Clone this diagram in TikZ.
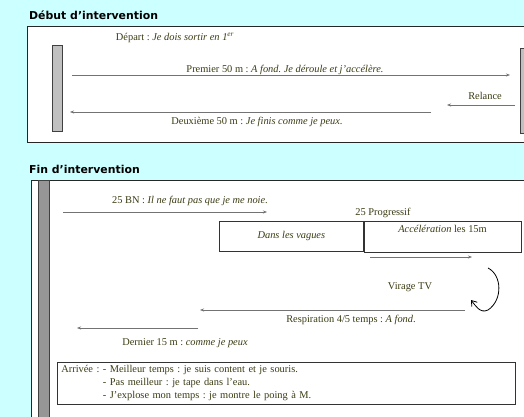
\documentclass[tikz,border=0pt]{standalone}
\usepackage{fontspec}
\setmainfont{Liberation Serif}
\newfontfamily\titrefont{DejaVu Sans}
\usepackage{xcolor}
\usetikzlibrary{arrows.meta,positioning}
\definecolor{fond}{RGB}{204,255,255}
\definecolor{olive}{RGB}{60,60,20}
\definecolor{barreclair}{RGB}{192,192,192}
\definecolor{barrefonce}{RGB}{150,150,150}
\frenchspacing

\begin{document}
\begin{tikzpicture}[x=1pt,y=-1pt,>={Stealth[length=4pt,width=3pt]},
every node/.style={font=\fontsize{10.4}{12}\selectfont,text=olive,inner sep=1pt},
titre/.style={font=\titrefont\bfseries\fontsize{10.9}{12}\selectfont,text=black,anchor=base west},
cadre/.style={draw=black!85,fill=white,line width=0.8pt},
barre/.style={draw=black!75,fill=barreclair,line width=0.8pt},
boite/.style={draw=black!80,line width=0.7pt,inner sep=0pt},
fleche/.style={->,draw=black!55,line width=0.6pt}]
\fill[fond](0,0)rectangle(524,417);
\useasboundingbox(0,0)rectangle(524,417);
\clip(0,0)rectangle(524,417);
% debut
\node[titre](tdebut)at(28,20){Début d’intervention};
\draw[cadre](27,26)rectangle(540,142);
\draw[barre](52,45)rectangle(62,131);
\draw[barre](520,48)rectangle(532,133);
\node(depart)at(175,38){Départ : \textit{Je dois sortir en 1\textsuperscript{er}}};
\coordinate(p1)at(72,75);\coordinate(p2)at(510,75);
\draw[fleche](p1)--(p2);
\node[anchor=base](premier)at(285,73){Premier 50 m : \textit{A fond. Je déroule et j’accélère.}};
\coordinate(r1)at(515,105);\coordinate(r2)at(447,105);
\draw[fleche](r1)--(r2);
\node(relance)at(485,96){Relance};
\coordinate(d1)at(431,112);\coordinate(d2)at(70,112);
\draw[fleche](d1)--(d2);
\node(deuxieme)at(257,122){Deuxième 50 m : \textit{Je finis comme je peux.}};
% fin
\node[titre](tfin)at(28,173){Fin d’intervention};
\draw[cadre](31,180)rectangle(540,430);
\draw[barre,fill=barrefonce](38,180)rectangle(49,430);
\node(bn)at(190,201){25 BN : \textit{Il ne faut pas que je me noie.}};
\coordinate(b1)at(63,212);\coordinate(b2)at(267,212);
\draw[fleche](b1)--(b2);
\node(progressif)at(383,213){25 Progressif};
\node[boite,minimum width=144,minimum height=30,anchor=north west](vagues)at(219,221){\textit{Dans les vagues}};
\node[boite,minimum width=157,minimum height=31,anchor=north west](accel)at(vagues.north east){};
\node[below=3pt of accel.north](accelt){\textit{Accélération} les 15m};
\coordinate(a1)at(370,257);\coordinate(a2)at(472,257);
\draw[fleche](a1)--(a2);
\coordinate(v1)at(488,268);\coordinate(v2)at(488,310);\coordinate(v3)at(471,300);
\draw[-{Straight Barb[length=5pt,width=7pt]},line width=0.8pt](v1)..controls(502,275)and(503,300)..(v2)..controls(480,314)and(475,305)..(v3);
\node(virage)at(410,287){Virage TV};
\coordinate(s1)at(465,310);\coordinate(s2)at(200,310);
\draw[fleche](s1)--(s2);
\node(respiration)at(351,320){Respiration 4/5 temps : \textit{A fond}.};
\coordinate(n1)at(198,328);\coordinate(n2)at(77,328);
\draw[fleche](n1)--(n2);
\node(dernier)at(185,343){Dernier 15 m : \textit{comme je peux}};
\node[boite,anchor=north west,minimum width=458,minimum height=42,text width=450,inner xsep=4pt,align=left,font=\fontsize{10.4}{13}\selectfont](arrivee)at(57,362){%
\begin{tabular}{@{}l@{ }l@{}}
Arrivée : & - Meilleur temps : je suis content et je souris.\\
 & - Pas meilleur : je tape dans l’eau.\\
 & - J’explose mon temps : je montre le poing à M.
\end{tabular}};
\end{tikzpicture}
\end{document}
